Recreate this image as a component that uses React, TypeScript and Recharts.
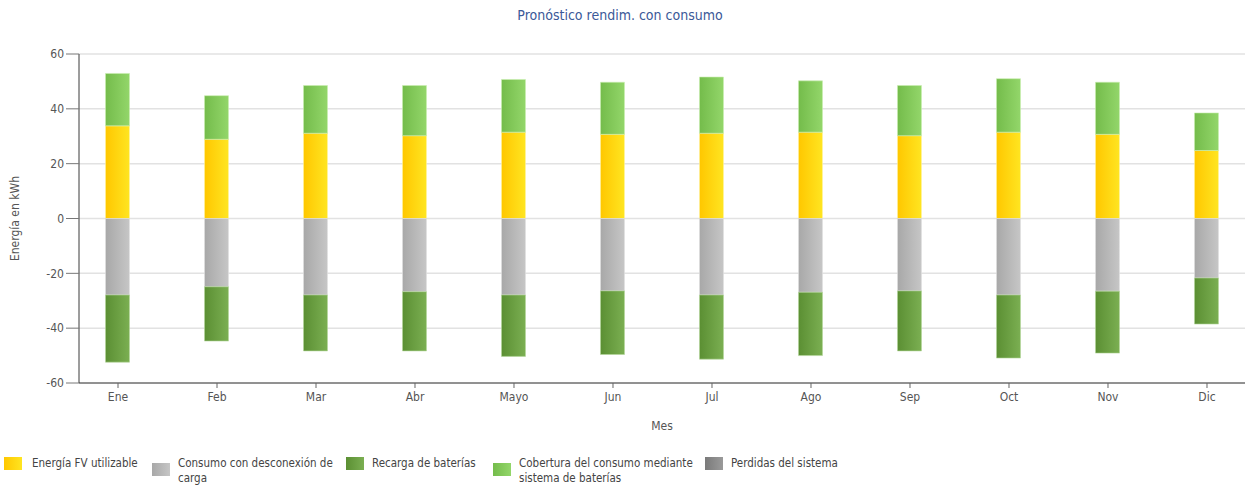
import React from 'react';
import { BarChart, Bar, XAxis, YAxis, CartesianGrid } from 'recharts';

// Monthly forecast (kWh)
const months = ['Ene', 'Feb', 'Mar', 'Abr', 'Mayo', 'Jun', 'Jul', 'Ago', 'Sep', 'Oct', 'Nov', 'Dic'];
const energiaFV = [33.8, 28.9, 31.1, 30.2, 31.5, 30.7, 31.1, 31.5, 30.2, 31.5, 30.7, 24.8];
const coberturaBaterias = [19.1, 15.9, 17.4, 18.3, 19.2, 19.0, 20.5, 18.7, 18.3, 19.5, 19.0, 13.7];
const consumoDesconexion = [-27.9, -24.9, -27.9, -26.7, -27.9, -26.4, -27.9, -26.9, -26.4, -27.9, -26.5, -21.7];
const recargaBaterias = [-24.5, -19.8, -20.4, -21.6, -22.4, -23.2, -23.4, -23.1, -21.9, -23.0, -22.6, -16.8];
const perdidasSistema = [0, 0, 0, 0, 0, 0, 0, 0, 0, 0, 0, 0];
const yTicks = [-60, -40, -20, 0, 20, 40, 60];

const data = months.map((m, i) => ({
  idx: i,
  mes: m,
  fv: energiaFV[i],
  cobertura: coberturaBaterias[i],
  consumo: consumoDesconexion[i],
  recarga: recargaBaterias[i],
  perdidas: perdidasSistema[i],
}));

const FONT = 'Tahoma, "DejaVu Sans Condensed", "Noto Sans", sans-serif';

const gradients = [
  { id: 'gFV', from: '#FFC700', to: '#FFE521' },
  { id: 'gConsumo', from: '#A8A8A8', to: '#C6C6C6' },
  { id: 'gRecarga', from: '#5B8F33', to: '#7BAF52' },
  { id: 'gCobertura', from: '#74BC4B', to: '#93D66A' },
  { id: 'gPerdidas', from: '#7A7A7A', to: '#9A9A9A' },
];

const legendItems = [
  { label: ['Energía FV utilizable'], g: 0, x: 4, sx: 32 },
  { label: ['Consumo con desconexión de', 'carga'], g: 1, x: 152, sx: 178 },
  { label: ['Recarga de baterías'], g: 2, x: 346, sx: 372 },
  { label: ['Cobertura del consumo mediante', 'sistema de baterías'], g: 3, x: 493, sx: 519 },
  { label: ['Perdidas del sistema'], g: 4, x: 705, sx: 731 },
];

export default function App() {
  return (
    <div style={{ position: 'absolute', left: 0, top: 0, width: 1250, height: 486, background: '#fff', fontFamily: FONT }}>
      <div
        style={{
          position: 'absolute',
          top: 7,
          left: 0,
          width: 1240,
          textAlign: 'center',
          fontSize: 14,
          color: '#3B5998',
          fontFamily: FONT,
        }}
      >
        Pronóstico rendim. con consumo
      </div>
      <BarChart
        width={1250}
        height={486}
        data={data}
        stackOffset="sign"
        margin={{ top: 54, right: 5, bottom: 53, left: 0 }}
      >
        <defs>
          {gradients.map((g) => (
            <linearGradient key={g.id} id={g.id} x1="0" y1="0" x2="1" y2="0">
              <stop offset="0%" stopColor={g.from} />
              <stop offset="100%" stopColor={g.to} />
            </linearGradient>
          ))}
        </defs>
        <CartesianGrid vertical={false} stroke="#E2E2E2" strokeWidth={1.5} />
        <XAxis
          dataKey="idx"
          type="number"
          domain={[-0.394, 11.384]}
          ticks={months.map((_, i) => i)}
          tickFormatter={(v: number) => months[v]}
          interval={0}
          height={50}
          tickSize={5}
          tickMargin={4}
          stroke="#3a3a3a"
          tickLine={{ stroke: '#666' }}
          tick={{ fill: '#555', fontSize: 12, fontFamily: FONT }}
          label={{ value: 'Mes', position: 'insideBottom', offset: 3, fill: '#555', fontSize: 12, fontFamily: FONT }}
        />
        <YAxis
          domain={[-60, 60]}
          ticks={yTicks}
          width={79}
          tickSize={13}
          stroke="#3a3a3a"
          tickLine={{ stroke: '#777' }}
          tick={{ fill: '#555', fontSize: 12, fontFamily: FONT }}
          label={{
            value: 'Energía en kWh',
            angle: -90,
            position: 'insideLeft',
            offset: 15,
            fill: '#555',
            fontSize: 12,
            fontFamily: FONT,
            style: { textAnchor: 'middle' },
          }}
        />
        <Bar dataKey="fv" stackId="a" fill="url(#gFV)" barSize={24} isAnimationActive={false} stroke="#FFF3A0" strokeWidth={0.6} />
        <Bar dataKey="cobertura" stackId="a" fill="url(#gCobertura)" barSize={24} isAnimationActive={false} stroke="#C9EFB0" strokeWidth={0.6} />
        <Bar dataKey="consumo" stackId="a" fill="url(#gConsumo)" barSize={24} isAnimationActive={false} stroke="#E0E0E0" strokeWidth={0.6} />
        <Bar dataKey="recarga" stackId="a" fill="url(#gRecarga)" barSize={24} isAnimationActive={false} stroke="#B5D69C" strokeWidth={0.6} />
        <Bar dataKey="perdidas" stackId="a" fill="url(#gPerdidas)" barSize={24} isAnimationActive={false} />
      </BarChart>
      {legendItems.map((it) => (
        <React.Fragment key={it.label[0]}>
          <div
            style={{
              position: 'absolute',
              left: it.x,
              top: it.label.length > 1 ? 463 : 457,
              width: 18,
              height: 13,
              background: `linear-gradient(to right, ${gradients[it.g].from}, ${gradients[it.g].to})`,
            }}
          />
          <div
            style={{
              position: 'absolute',
              left: it.sx,
              top: 456,
              fontSize: 11.5,
              lineHeight: '15px',
              color: '#444',
              fontFamily: FONT,
              whiteSpace: 'nowrap',
            }}
          >
            {it.label.map((l) => (
              <div key={l}>{l}</div>
            ))}
          </div>
        </React.Fragment>
      ))}
    </div>
  );
}
